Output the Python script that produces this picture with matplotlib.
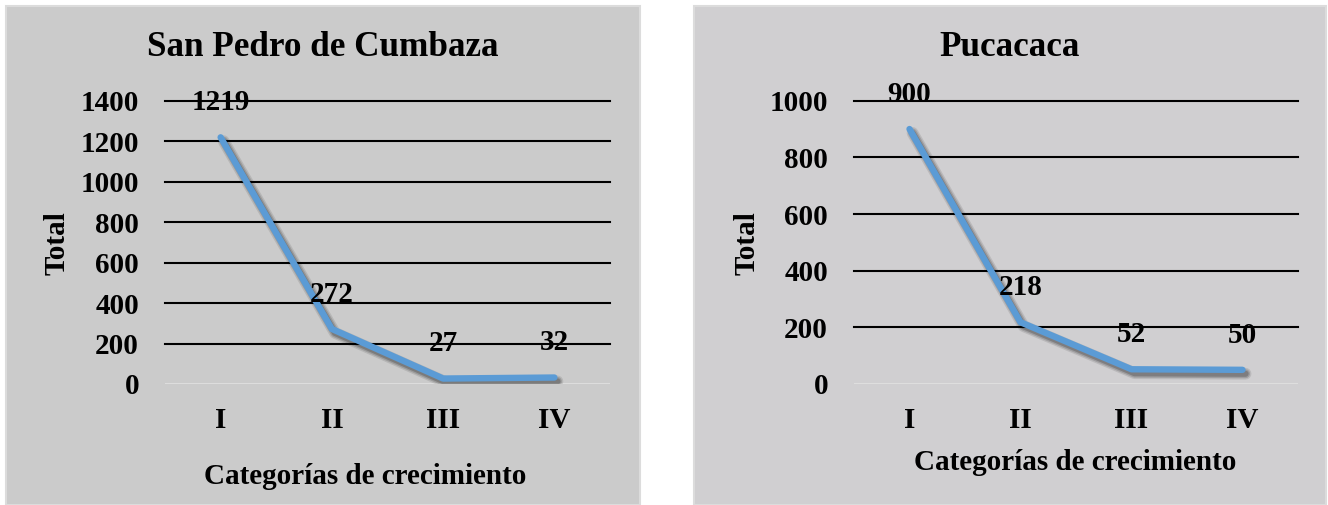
import matplotlib
matplotlib.use('Agg')
import matplotlib.pyplot as plt
from matplotlib.patches import Rectangle
import matplotlib.patheffects as pe

categories = ['I', 'II', 'III', 'IV']
san_pedro = [1219, 272, 27, 32]
pucacaca = [900, 218, 52, 50]
yticks_sp = [0, 200, 400, 600, 800, 1000, 1200, 1400]
yticks_pu = [0, 200, 400, 600, 800, 1000]
title_sp = 'San Pedro de Cumbaza'
title_pu = 'Pucacaca'
xlabel = 'Categorías de crecimiento'
ylabel = 'Total'

W, H = 1328, 505
FONT = 'Liberation Serif'
FS = 21
fig = plt.figure(figsize=(W / 100, H / 100), dpi=100)
fig.patch.set_facecolor('white')


def rect(x0, y0, x1, y1):
    return [x0 / W, 1 - y1 / H, (x1 - x0) / W, (y1 - y0) / H]


def fx(x):
    return x / W


def fy(y):
    return 1 - y / H


# panel backgrounds
for (x0, x1, col) in [(6, 640, '#cbcbcb'), (694, 1326, '#d0cfd1')]:
    fig.patches.append(Rectangle((x0 / W, 0), (x1 - x0) / W, (H - 6) / H,
                                 transform=fig.transFigure, facecolor=col,
                                 edgecolor='#dcdcdc', lw=1.5, zorder=-5))

line_color = '#5b9bd5'
shadow = [
    pe.SimpleLineShadow(offset=(2.2, -2.8), shadow_color='black', alpha=0.10, linewidth=8.5),
    pe.SimpleLineShadow(offset=(2.2, -2.8), shadow_color='black', alpha=0.15, linewidth=6.5),
    pe.SimpleLineShadow(offset=(2.2, -2.8), shadow_color='black', alpha=0.20, linewidth=4.5),
    pe.Normal(),
]


def draw(axrect, values, yticks, title, tpos, xlpos, ylpos):
    ax = fig.add_axes(rect(*axrect))
    ax.set_zorder(2)
    ax.patch.set_visible(False)
    x = list(range(len(categories)))
    ax.plot(x, values, color=line_color, lw=4.6, solid_capstyle='round',
            solid_joinstyle='round', zorder=3, path_effects=shadow)
    for xi, v in zip(x, values):
        ax.annotate(str(v), (xi, v), xytext=(0, 25), textcoords='offset points',
                    ha='center', va='center', fontsize=FS, fontweight='bold',
                    family=FONT, color='black', zorder=5, annotation_clip=False)
    ax.set_xlim(-0.5, len(categories) - 0.5)
    ax.set_ylim(yticks[0], yticks[-1])
    ax.set_yticks(yticks)
    ax.set_xticks(x)
    ax.set_xticklabels(categories)
    for s in ax.spines.values():
        s.set_visible(False)
    ax.tick_params(axis='both', length=0, labelsize=FS)
    ax.tick_params(axis='y', pad=18.7)
    ax.tick_params(axis='x', pad=16.5)
    for lab in ax.get_xticklabels() + ax.get_yticklabels():
        lab.set_fontfamily(FONT)
        lab.set_fontweight('bold')
    for yt in yticks[1:]:
        ax.axhline(yt, color='black', lw=1.5, zorder=1, clip_on=False)
    ax.axhline(0, color='#e3e3e3', lw=1.8, zorder=1)
    fig.text(fx(tpos[0]), fy(tpos[1]), title, ha='center', va='center',
             fontsize=25.3, fontweight='bold', family=FONT)
    fig.text(fx(xlpos[0]), fy(xlpos[1]), xlabel, ha='center', va='center',
             fontsize=FS, fontweight='bold', family=FONT)
    fig.text(fx(ylpos[0]), fy(ylpos[1]), ylabel, ha='center', va='center',
             rotation=90, fontsize=FS, fontweight='bold', family=FONT)
    return ax


draw((165, 100.7, 610, 384), san_pedro, yticks_sp, title_sp, (323, 48), (365, 477), (57, 243))
draw((854, 100.7, 1298, 384), pucacaca, yticks_pu, title_pu, (1010, 48), (1075, 462), (747, 243))

fig.savefig('out.png', dpi=100, facecolor='white')
